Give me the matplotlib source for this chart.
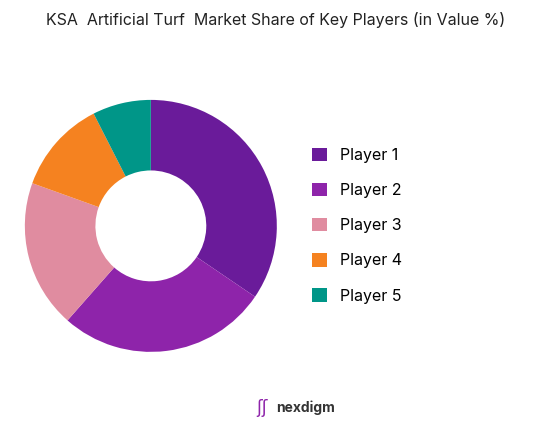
import matplotlib
matplotlib.use("Agg")
import matplotlib.pyplot as plt
from matplotlib.patches import Patch

labels = ["Player 1", "Player 2", "Player 3", "Player 4", "Player 5"]
values = [34.5, 27, 19, 12, 7.5]
colors = ["#6a1b9a", "#8e24aa", "#e08ca0", "#f58220", "#009688"]

fig = plt.figure(figsize=(5.52, 4.26), dpi=100)
ax = fig.add_axes([0.045, 0.174, 0.4565, 0.5915])
ax.pie(values, colors=colors, startangle=90, counterclock=False,
       wedgeprops=dict(width=0.56, edgecolor="none"))
ax.set_xlim(-1, 1)
ax.set_ylim(-1, 1)
ax.set_aspect("equal")

fig.text(0.5, 0.953, "KSA  Artificial Turf  Market Share of Key Players (in Value %)",
         ha="center", va="center", fontsize=11.5, color="#222222", family="Inter")

handles = [Patch(facecolor=c, edgecolor="none") for c in colors]
fig.legend(handles, labels, loc="center left", bbox_to_anchor=(0.54, 0.47),
           frameon=False, handlelength=0.9, handleheight=0.9,
           labelspacing=1.25, handletextpad=0.8, prop=dict(family="Inter", size=11.5))

fig.text(0.5, 0.042, "nexdigm", ha="left", va="center", fontsize=10,
         color="#333333", family="Inter", fontweight="bold")
fig.text(0.475, 0.042, "ʃʃ", ha="center", va="center", fontsize=12, color="#8e24aa")

fig.savefig("out.png", dpi=100, facecolor="white")
